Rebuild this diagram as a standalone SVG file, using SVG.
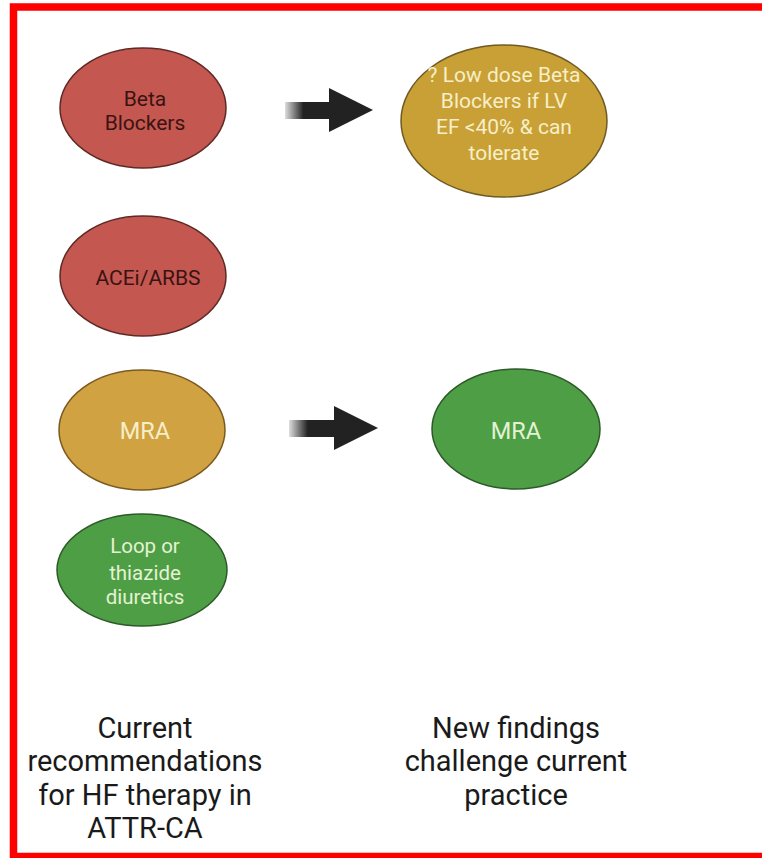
<svg xmlns="http://www.w3.org/2000/svg" width="762" height="858" viewBox="0 0 762 858">
<defs>
<linearGradient id="shaft" x1="0" y1="0" x2="1" y2="0">
<stop offset="0" stop-color="#222" stop-opacity="0.15"/>
<stop offset="0.4" stop-color="#222" stop-opacity="1"/>
<stop offset="1" stop-color="#222" stop-opacity="1"/>
</linearGradient>
<style>
.red{fill:#c4574f;stroke:#5e2a26;stroke-width:1.5}
.gold{fill:#c9a035;stroke:#6e5a22;stroke-width:1.5}
.gold2{fill:#d1a242;stroke:#7a5a20;stroke-width:1.5}
.green{fill:#4e9e45;stroke:#2c5a28;stroke-width:1.5}
.t{font-family:Roboto,"Liberation Sans",sans-serif;text-anchor:middle}
.dk{fill:#3a1414;font-size:21px}
.lt{fill:#f6efc8;font-size:21px}
.gl{fill:#e4f2d4;font-size:20.5px}
.big{font-size:23.5px}
.cap{fill:#1a1a1a;font-size:29px}
</style>
</defs>
<rect x="0" y="0" width="762" height="858" fill="#ffffff"/>
<path d="M762,7 H13.5 V856.5 H762" fill="none" stroke="#ff0000" stroke-width="7.5"/>

<g id="connectors">
<g id="arrow1">
<rect x="285" y="102" width="46" height="17" fill="url(#shaft)"/>
<polygon points="329,88 373,110 329,132" fill="#222"/>
</g>
<g id="arrow2">
<rect x="289" y="420" width="47" height="17" fill="url(#shaft)"/>
<polygon points="334,406 378,428 334,450" fill="#222"/>
</g>
</g>

<g id="beta">
<ellipse class="red" cx="143" cy="108" rx="83" ry="60"/>
<text class="t dk" x="145" y="106">Beta</text>
<text class="t dk" x="145" y="130">Blockers</text>
</g>
<g id="lowdose">
<ellipse class="gold" cx="504" cy="121" rx="103" ry="76"/>
<text class="t lt" x="504" y="82">? Low dose Beta</text>
<text class="t lt" x="504" y="108">Blockers if LV</text>
<text class="t lt" x="504" y="134">EF &lt;40% &amp; can</text>
<text class="t lt" x="504" y="160">tolerate</text>
</g>
<g id="acei">
<ellipse class="red" cx="143" cy="276" rx="83" ry="60"/>
<text class="t dk" x="148" y="285">ACEi/ARBS</text>
</g>
<g id="mra-left">
<ellipse class="gold2" cx="142" cy="430" rx="83" ry="60"/>
<text class="t lt big" x="145" y="439">MRA</text>
</g>
<g id="mra-right">
<ellipse class="green" cx="516" cy="429" rx="84" ry="60"/>
<text class="t gl big" x="516" y="439">MRA</text>
</g>
<g id="loop">
<ellipse class="green" cx="142" cy="570" rx="85" ry="56"/>
<text class="t gl" x="145" y="553">Loop or</text>
<text class="t gl" x="145" y="580">thiazide</text>
<text class="t gl" x="145" y="604">diuretics</text>
</g>

<g id="caption-left">
<text class="t cap" x="145" y="738">Current</text>
<text class="t cap" x="145" y="771">recommendations</text>
<text class="t cap" x="145" y="805">for HF therapy in</text>
<text class="t cap" x="145" y="838">ATTR-CA</text>
</g>
<g id="caption-right">
<text class="t cap" x="516" y="738">New findings</text>
<text class="t cap" x="516" y="771">challenge current</text>
<text class="t cap" x="516" y="805">practice</text>
</g>
</svg>
